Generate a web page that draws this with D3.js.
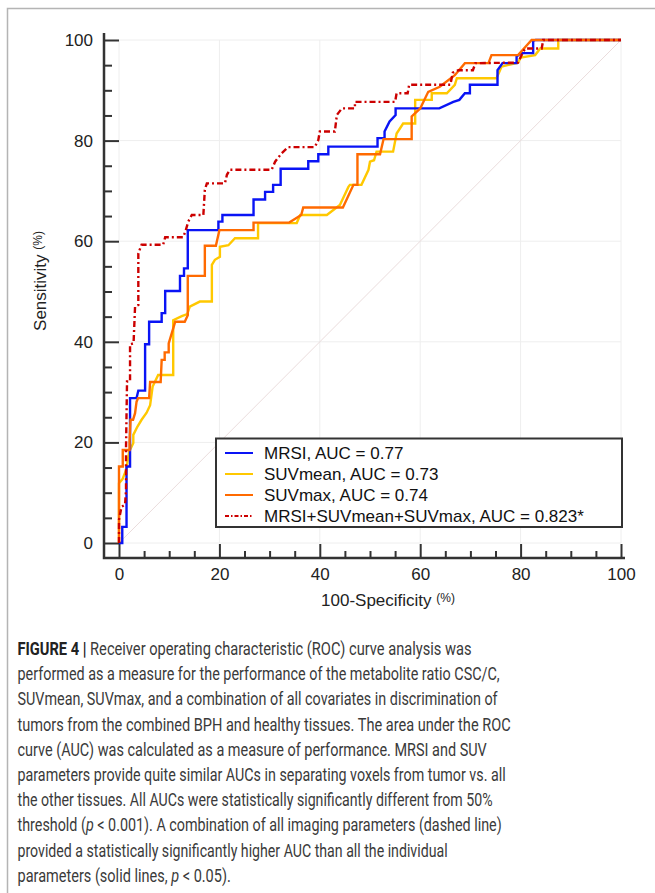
<!DOCTYPE html>
<html>
<head>
<meta charset="utf-8">
<script src="https://cdn.jsdelivr.net/npm/d3@7"></script>
<style>
  body { margin: 0; background: #fff; }
  svg { display: block; }
</style>
</head>
<body>
<div id="chart"></div>
<script>
// tick values
var majorTicks = [0, 20, 40, 60, 80, 100];
var minorTicks = d3.range(0, 101, 5);

// ROC curves, [100-specificity, sensitivity] in %
var mrsi = [[0,0],[0.65,0],[0.65,3.2],[1.5,3.2],[1.5,15.2],[2.2,15.2],[2.2,28.8],[3.5,28.8],[3.85,30.3],[5.2,30.3],
  [5.2,39.5],[6.0,39.5],[6.0,44.0],[8.5,44.0],[8.5,45.7],[9.2,45.7],[9.2,50.1],[12.15,50.1],[12.15,53.1],[12.95,53.1],
  [12.95,54.6],[13.7,54.6],[13.7,62.2],[19.8,62.2],[19.8,63.9],[20.6,63.9],[20.6,65.2],[26.8,65.2],[26.8,68.3],[29.1,68.3],
  [29.1,69.8],[30.7,69.8],[30.7,71.2],[32.2,71.2],[32.2,74.4],[37.7,74.4],[37.7,75.9],[39.7,75.9],[39.7,77.3],[41.7,77.3],
  [41.7,78.8],[51.5,78.8],[51.5,80.5],[52.9,80.5],[52.9,81.8],[53.9,83.8],[55.1,85.1],[55.1,86.4],[63.8,86.4],[66.6,87.7],
  [67.8,88.1],[68.9,89.4],[69.9,89.4],[69.9,91.1],[75.4,91.1],[75.4,94.0],[76.4,95.4],[79.2,95.4],[79.2,96.7],[80.0,97.4],
  [82.5,97.4],[82.5,99.8],[83.0,100],[100,100]];

var suvMean = [[0,0],[0,11.9],[0.7,12.7],[1.4,14.5],[2.05,18.2],[2.85,19.9],[2.85,21.5],[3.65,23.1],[4.5,24.5],[5.5,25.9],
  [6.2,27.4],[6.7,31.1],[7.8,33.4],[10.8,33.4],[10.8,44.3],[12.5,45.1],[13.6,45.5],[14.1,47.0],[16.1,48.0],[18.5,48.0],
  [18.5,55.3],[19.1,56.3],[20.1,56.9],[20.1,58.9],[21.8,59.2],[23.1,60.6],[27.7,60.6],[27.7,63.6],[35.4,63.6],[36.1,65.2],
  [41.4,65.2],[44.0,67.2],[45.7,70.8],[46.0,71.2],[48.3,71.2],[49.7,74.2],[50.0,75.8],[50.8,76.1],[51.3,77.8],[54.6,77.8],
  [55.3,81.4],[56.6,83.4],[59.0,83.4],[59.0,88.1],[62.3,88.1],[62.3,89.4],[65.3,89.4],[66.9,91.1],[67.3,92.4],[75.2,92.4],
  [76.2,94.7],[79.5,95.5],[80.0,96.5],[82.9,97.0],[83.9,98.3],[87.5,98.3],[87.5,100],[100,100]];

var suvMax = [[0,0],[0,15.2],[0.75,15.2],[0.75,18.5],[2.1,18.5],[2.1,20.2],[2.3,24.5],[2.8,24.5],[3.2,25.8],[3.5,28.1],
  [3.8,28.8],[6.0,28.8],[6.2,32.0],[8.3,32.0],[8.5,36.4],[9.1,36.4],[9.1,37.9],[9.9,37.9],[9.9,39.7],[11.2,44.0],
  [13.1,44.0],[13.7,45.3],[13.7,53.1],[17.1,53.1],[17.1,59.1],[19.3,59.1],[20.0,62.2],[26.8,62.2],[26.8,63.7],[33.9,63.7],
  [36.3,65.2],[36.7,66.7],[44.6,66.7],[46.7,71.2],[47.5,71.2],[47.5,77.3],[52.0,77.3],[52.7,80.3],[58.3,80.3],[58.3,84.8],
  [60.0,86.4],[61.6,89.7],[63.9,90.7],[66.9,93.0],[68.9,95.4],[73.6,95.4],[74.2,97.0],[79.5,97.0],[82.2,100],[100,100]];

var combined = [[0,0],[0,4.6],[0.5,7.2],[1.2,7.6],[1.4,10.5],[1.4,19.1],[1.6,32.1],[2.2,32.1],[2.2,39.5],[2.9,39.7],
  [3.2,47.0],[3.85,47.3],[3.85,57.6],[4.5,59.3],[8.8,59.3],[9.2,60.8],[12.8,60.8],[13.3,62.2],[13.8,63.9],[14.5,65.2],
  [16.8,65.2],[17.1,70.2],[17.5,71.5],[21.1,71.5],[21.5,73.2],[22.1,74.2],[30.4,74.2],[31.1,75.8],[32.4,77.5],[33.7,78.7],
  [39.0,78.7],[39.7,80.1],[40.0,81.8],[43.0,81.8],[43.4,85.1],[44.4,86.4],[47.0,86.4],[47.0,87.7],[55.0,87.7],[55.3,89.4],
  [57.5,89.4],[57.8,91.1],[66.0,91.1],[66.5,93.5],[67.6,94.0],[70.5,94.0],[71.0,95.4],[79.5,95.5],[80.2,97.0],[80.9,98.3],
  [84.2,98.3],[84.5,100],[100,100]];

var seriesNames = ["MRSI, AUC = 0.77", "SUVmean, AUC = 0.73", "SUVmax, AUC = 0.74", "MRSI+SUVmean+SUVmax, AUC = 0.823*"];

// caption lines, |...| marks italic
var captionLines = [
  "Receiver operating characteristic (ROC) curve analysis was",
  "performed as a measure for the performance of the metabolite ratio CSC/C,",
  "SUVmean, SUVmax, and a combination of all covariates in discrimination of",
  "tumors from the combined BPH and healthy tissues. The area under the ROC",
  "curve (AUC) was calculated as a measure of performance. MRSI and SUV",
  "parameters provide quite similar AUCs in separating voxels from tumor vs. all",
  "the other tissues. All AUCs were statistically significantly different from 50%",
  "threshold (|p| < 0.001). A combination of all imaging parameters (dashed line)",
  "provided a statistically significantly higher AUC than all the individual",
  "parameters (solid lines, |p| < 0.05)."
];
var captionWidths = [472, 500, 498, 511, 487, 506, 493, 502, 448, 231];

var width = 655, height = 893;

var svg = d3.select("#chart").append("svg")
    .attr("width", width)
    .attr("height", height)
    .style("font-family", "'Liberation Sans', Arial, sans-serif");

// figure frame (left and top)
svg.append("path")
    .attr("d", "M7.5," + height + "V8.5H" + width)
    .attr("fill", "none")
    .attr("stroke", "#b4b4b4")
    .attr("stroke-width", 1.5);

var x = d3.scaleLinear().domain([0, 100]).range([119, 621]);
var y = d3.scaleLinear().domain([0, 100]).range([543, 40]);

var axisX = 104, axisY = 558;

// faint grid
var grid = svg.append("g").attr("stroke", "#eeeeee").attr("stroke-width", 1);
grid.selectAll(".gx").data(majorTicks).enter().append("line")
    .attr("x1", function(d) { return x(d); }).attr("x2", function(d) { return x(d); })
    .attr("y1", y(0)).attr("y2", y(100));
grid.selectAll(".gy").data(majorTicks).enter().append("line")
    .attr("x1", x(0)).attr("x2", x(100))
    .attr("y1", function(d) { return y(d); }).attr("y2", function(d) { return y(d); });

// reference diagonal
svg.append("line")
    .attr("x1", x(0)).attr("y1", y(0))
    .attr("x2", x(100)).attr("y2", y(100))
    .attr("stroke", "#eadcdc")
    .attr("stroke-width", 1);

// axes
function styleAxis(g) {
    g.select(".domain").remove();
    g.selectAll(".tick line").attr("stroke", "#333").attr("stroke-width", 2);
    g.selectAll(".tick text").attr("fill", "#222").style("font-size", "17px")
        .style("font-family", "'Liberation Sans', Arial, sans-serif");
}

svg.append("g")
    .attr("transform", "translate(0," + axisY + ")")
    .call(d3.axisBottom(x).tickValues(minorTicks.filter(function(d) { return d % 20; }))
        .tickSize(-7).tickFormat(""))
    .call(styleAxis);
svg.append("g")
    .attr("transform", "translate(0," + axisY + ")")
    .call(d3.axisBottom(x).tickValues(majorTicks).tickSize(-14).tickPadding(10))
    .call(styleAxis);

svg.append("g")
    .attr("transform", "translate(" + axisX + ",0)")
    .call(d3.axisLeft(y).tickValues(minorTicks.filter(function(d) { return d % 20; }))
        .tickSize(-8).tickFormat(""))
    .call(styleAxis);
svg.append("g")
    .attr("transform", "translate(" + axisX + ",0)")
    .call(d3.axisLeft(y).tickValues(majorTicks).tickSize(-15).tickPadding(11))
    .call(styleAxis);

svg.append("path")
    .attr("d", "M" + axisX + "," + (y(100) - 7) + "V" + axisY + "H" + (x(100) + 4))
    .attr("fill", "none")
    .attr("stroke", "#333")
    .attr("stroke-width", 2.5);

// axis titles
var xt = svg.append("text")
    .attr("x", 388).attr("y", 606)
    .attr("text-anchor", "middle")
    .attr("fill", "#222")
    .style("font-size", "17px")
    .text("100-Specificity ");
xt.append("tspan").style("font-size", "12px").attr("dy", -4).text("(%)");

var yt = svg.append("text")
    .attr("transform", "translate(46,281) rotate(-90)")
    .attr("text-anchor", "middle")
    .attr("fill", "#222")
    .style("font-size", "17px")
    .text("Sensitivity ");
yt.append("tspan").style("font-size", "12px").attr("dy", -4).text("(%)");

// curves
var series = [
    {data: suvMean, color: "#ffc800", dash: null, legend: 1},
    {data: mrsi, color: "#0a14f5", dash: null, legend: 0},
    {data: suvMax, color: "#ff6a00", dash: null, legend: 2},
    {data: combined, color: "#cc0000", dash: "6,3,2,3", legend: 3}
];

var line = d3.line()
    .x(function(d) { return x(d[0]); })
    .y(function(d) { return y(d[1]); });

svg.append("g").selectAll("path").data(series).enter().append("path")
    .attr("d", function(d) { return line(d.data); })
    .attr("fill", "none")
    .attr("stroke", function(d) { return d.color; })
    .attr("stroke-width", 2.4)
    .attr("stroke-linejoin", "miter")
    .attr("stroke-dasharray", function(d) { return d.dash; });

// legend
var legend = svg.append("g");
legend.append("rect")
    .attr("x", 216).attr("y", 438.5)
    .attr("width", 406).attr("height", 88.5)
    .attr("fill", "#fff")
    .attr("stroke", "#333")
    .attr("stroke-width", 2);

var legendItems = series.slice().sort(function(a, b) { return a.legend - b.legend; });
var rows = legend.selectAll(".row").data(legendItems).enter().append("g")
    .attr("transform", function(d, i) { return "translate(0," + (453 + i * 21) + ")"; });
rows.append("line")
    .attr("x1", 225).attr("x2", 253)
    .attr("stroke", function(d) { return d.color; })
    .attr("stroke-width", 2)
    .attr("stroke-dasharray", function(d) { return d.dash ? "4,2,1.5,2" : null; });
rows.append("text")
    .attr("x", 264).attr("y", 6)
    .attr("fill", "#111")
    .style("font-size", "17px")
    .text(function(d) { return seriesNames[d.legend]; });

// caption: each line squeezed horizontally to the reference width
var cap = svg.append("g")
    .style("font-family", "Roboto, 'Noto Sans', sans-serif")
    .style("font-size", "17.5px")
    .attr("fill", "#3a3a3a");

captionLines.forEach(function(txt, i) {
    var t = cap.append("text");
    if (i === 0) {
        t.append("tspan").attr("font-weight", "bold").attr("fill", "#222").text("FIGURE 4 | ");
    }
    txt.split("|").forEach(function(part, j) {
        var s = t.append("tspan").text(part);
        if (j % 2 === 1) s.attr("font-style", "italic");
    });
    var natural = t.node().getComputedTextLength();
    var sx = (captionWidths[i] - 17.5) / natural;
    t.attr("transform", "translate(17.5," + (655 + i * 25.2) + ") scale(" + sx + ",1)");
});
</script>
</body>
</html>
